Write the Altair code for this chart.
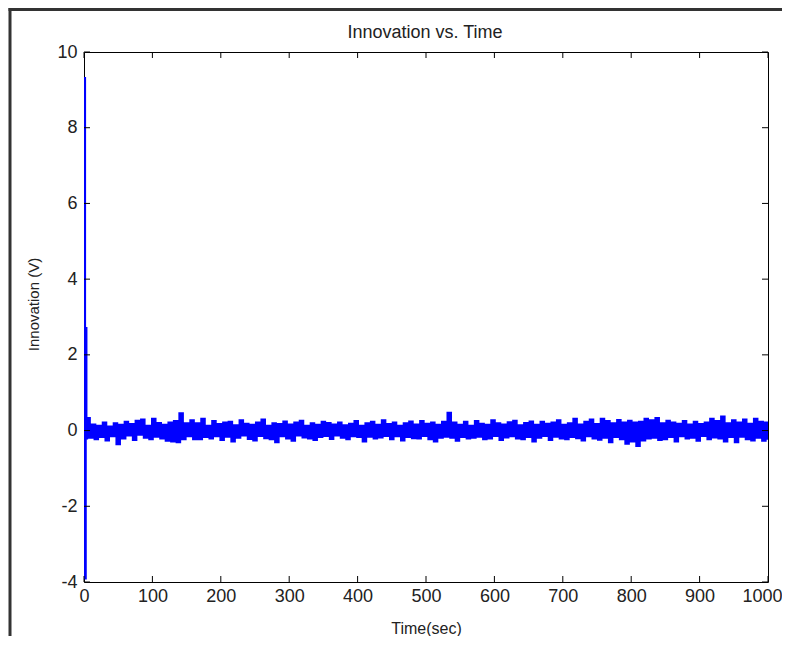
import altair as alt
import pandas as pd

# initial transient (sec, volts)
start_t = [0, 1, 2, 3]
start_v = [9.3, -3.9, 2.7, -0.2]

# innovation samples every 4 s, from t = 4 to t = 1000
noise_v = [
    0.32, -0.18, 0.15, -0.22, 0.12, -0.16, 0.20, -0.25, 0.10, -0.14,
    0.18, -0.35, 0.14, -0.20, 0.22, -0.12, 0.16, -0.24, 0.25, -0.10,
    0.28, -0.18, 0.12, -0.22, 0.30, -0.15, 0.19, -0.20, 0.14, -0.26,
    0.20, -0.28, 0.24, -0.30, 0.45, -0.22, 0.18, -0.14, 0.26, -0.22,
    0.18, -0.22, 0.30, -0.16, 0.12, -0.20, 0.24, -0.14, 0.16, -0.24,
    0.20, -0.15, 0.22, -0.28, 0.13, -0.18, 0.26, -0.12, 0.17, -0.21,
    0.14, -0.25, 0.20, -0.13, 0.28, -0.19, 0.12, -0.22, 0.18, -0.30,
    0.16, -0.14, 0.23, -0.20, 0.15, -0.26, 0.20, -0.12, 0.25, -0.17,
    0.12, -0.20, 0.18, -0.24, 0.14, -0.16, 0.22, -0.13, 0.19, -0.21,
    0.15, -0.12, 0.20, -0.18, 0.13, -0.22, 0.17, -0.14, 0.24, -0.16,
    0.12, -0.28, 0.18, -0.15, 0.22, -0.20, 0.14, -0.17, 0.26, -0.13,
    0.16, -0.22, 0.20, -0.14, 0.12, -0.25, 0.18, -0.16, 0.23, -0.19,
    0.15, -0.20, 0.24, -0.13, 0.17, -0.22, 0.20, -0.28, 0.14, -0.18,
    0.22, -0.15, 0.46, -0.18, 0.20, -0.26, 0.14, -0.16, 0.22, -0.20,
    0.12, -0.18, 0.24, -0.15, 0.17, -0.22, 0.14, -0.20, 0.26, -0.13,
    0.18, -0.24, 0.15, -0.17, 0.21, -0.14, 0.25, -0.20, 0.13, -0.22,
    0.19, -0.16, 0.23, -0.28, 0.14, -0.18, 0.22, -0.13, 0.17, -0.24,
    0.20, -0.15, 0.26, -0.20, 0.14, -0.22, 0.18, -0.16, 0.30, -0.19,
    0.15, -0.25, 0.22, -0.14, 0.28, -0.20, 0.16, -0.23, 0.30, -0.18,
    0.24, -0.30, 0.18, -0.16, 0.27, -0.22, 0.20, -0.34, 0.25, -0.28,
    0.20, -0.40, 0.22, -0.25, 0.30, -0.20, 0.26, -0.18, 0.32, -0.24,
    0.18, -0.22, 0.25, -0.16, 0.20, -0.28, 0.17, -0.14, 0.24, -0.20,
    0.15, -0.18, 0.22, -0.26, 0.16, -0.13, 0.20, -0.22, 0.30, -0.17,
    0.24, -0.20, 0.36, -0.28, 0.18, -0.16, 0.26, -0.30, 0.20, -0.15,
    0.28, -0.22, 0.17, -0.25, 0.30, -0.18, 0.22, -0.26, 0.20, -0.24,
]
noise_t = list(range(4, 1001, 4))

x_ticks = [0, 100, 200, 300, 400, 500, 600, 700, 800, 900, 1000]
y_ticks = [-4, -2, 0, 2, 4, 6, 8, 10]

chart_title = "Innovation vs. Time"
x_title = "Time(sec)"
y_title = "Innovation (V)"

W, H = 684, 530
FONT = "Liberation Sans"
TXT = "#222222"

df = pd.DataFrame({"t": start_t + noise_t, "v": start_v + noise_v})
xs = alt.Scale(domain=[0, 1000], nice=False, zero=False)
ys = alt.Scale(domain=[-4, 10], nice=False, zero=False)

x_axis = alt.Axis(
    values=x_ticks, title=x_title, grid=False, domain=False, ticks=False, tickSize=0,
    labelExpr="'' + datum.value",
    labelFont=FONT, labelFontSize=18, labelColor=TXT, labelPadding=5, labelFlush=False,
    labelOverlap=False,
    labelOffset={"condition": {"test": "datum.value == 1000", "value": -6}, "value": 0},
    titleFont=FONT, titleFontSize=16, titleFontWeight="normal", titleColor=TXT,
    titleY=46, titleBaseline="middle")
y_axis = alt.Axis(
    values=y_ticks, title=y_title, grid=False, domain=False, ticks=False, tickSize=0,
    labelExpr="'' + datum.value",
    labelFont=FONT, labelFontSize=18, labelColor=TXT, labelPadding=7, labelFlush=False,
    labelOverlap=False,
    titleFont=FONT, titleFontSize=15, titleFontWeight="normal", titleColor=TXT,
    titleX=-51, titleY=252, titleAngle=-90, titleBaseline="middle", titleAlign="center")

line = alt.Chart(df).mark_line(
    color="#0000FF", strokeWidth=2.8, clip=True, interpolate="step-after"
).encode(
    x=alt.X("t:Q", scale=xs, axis=x_axis),
    y=alt.Y("v:Q", scale=ys, axis=y_axis),
)

xt = pd.DataFrame({"t": x_ticks})
yt = pd.DataFrame({"v": y_ticks})
TL = 6
xb = alt.Chart(xt).mark_rule(color="black", strokeWidth=1).encode(
    x=alt.X("t:Q", scale=xs, axis=x_axis), y=alt.value(H), y2=alt.value(H - TL))
xtop = alt.Chart(xt).mark_rule(color="black", strokeWidth=1).encode(
    x=alt.X("t:Q", scale=xs, axis=x_axis), y=alt.value(0), y2=alt.value(TL))
yl = alt.Chart(yt).mark_rule(color="black", strokeWidth=1).encode(
    y=alt.Y("v:Q", scale=ys, axis=y_axis), x=alt.value(0), x2=alt.value(TL))
yr = alt.Chart(yt).mark_rule(color="black", strokeWidth=1).encode(
    y=alt.Y("v:Q", scale=ys, axis=y_axis), x=alt.value(W), x2=alt.value(W - TL))

title_df = pd.DataFrame({"label": [chart_title]})
title_mark = alt.Chart(title_df).mark_text(
    font=FONT, fontSize=18, color=TXT, align="center", baseline="middle"
).encode(text="label:N", x=alt.value(W / 2 - 1), y=alt.value(-19))

# outer figure frame (left and top edges)
frame_left = alt.Chart(title_df).mark_rule(color="#333333", strokeWidth=3).encode(
    x=alt.value(-74), y=alt.value(-44), y2=alt.value(H + 60))
frame_top = alt.Chart(title_df).mark_rule(color="#333333", strokeWidth=3).encode(
    x=alt.value(-75.5), x2=alt.value(W + 14), y=alt.value(-42.5))

chart = alt.layer(line, xb, xtop, yl, yr, title_mark, frame_left, frame_top).properties(
    width=W, height=H,
    background="white",
    autosize=alt.AutoSizeParams(type="none"),
    padding={"left": 76, "top": 44, "right": 14, "bottom": 54},
).configure_view(stroke="black", strokeWidth=1)

chart.save("out.html", embed_options={"renderer": "svg", "actions": False})
